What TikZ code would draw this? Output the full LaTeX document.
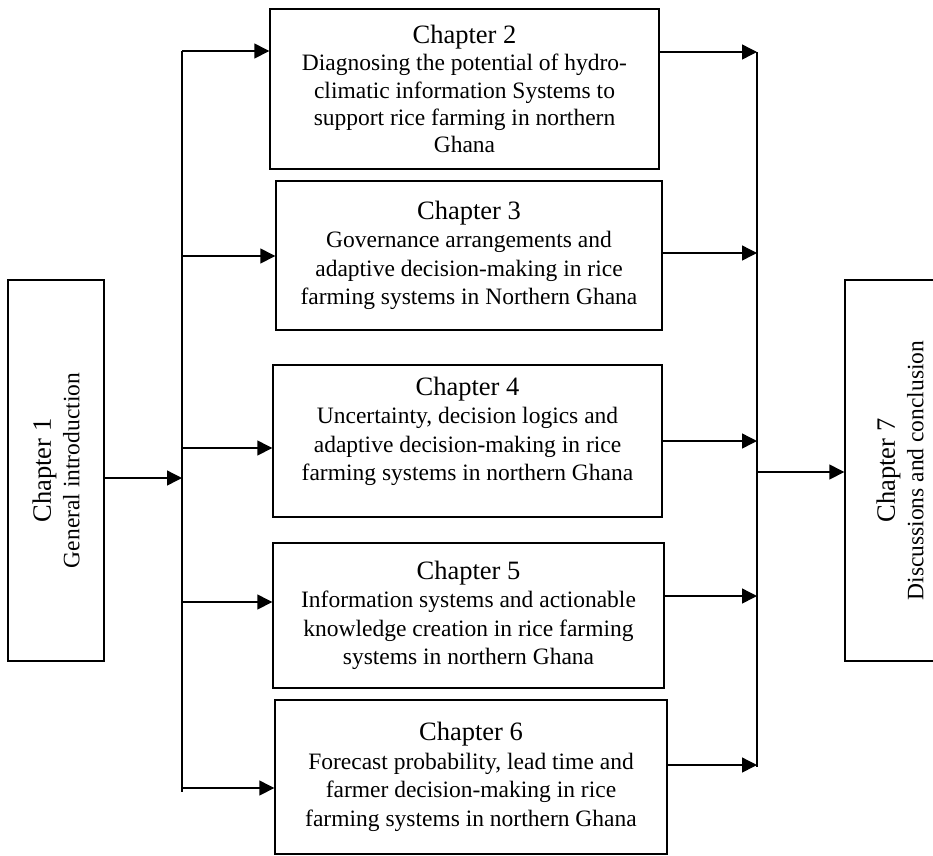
\documentclass[tikz,border=0pt]{standalone}
\usepackage{fontspec}
\setmainfont{Liberation Serif}
\usetikzlibrary{arrows.meta}
\newcommand{\chtitle}[1]{{\fontsize{26.5}{28.5}\selectfont #1}}
\begin{document}
\begin{tikzpicture}[x=1pt,y=-1pt,
  chbox/.style={draw, line width=1.4pt, inner sep=0pt, align=center,
    font=\fontsize{23.5}{28.5}\selectfont, anchor=center},
  bus/.style={line width=1.4pt},
  feed/.style={line width=1.4pt, -{Triangle[length=15pt,width=15pt]}}]
\useasboundingbox (0,0) rectangle (933,855);

% chapter boxes
\node[chbox, rotate=90, minimum width=381pt, minimum height=96pt] (c1) at (56,470.5)
  {\chtitle{Chapter 1}\\General introduction};
\node[chbox, minimum width=389pt, minimum height=160pt, font=\fontsize{23.5}{27.3}\selectfont] (c2) at (464.5,89)
  {\chtitle{Chapter 2}\\Diagnosing the potential of hydro-\\climatic information Systems to\\support rice farming in northern\\Ghana};
\node[chbox, minimum width=386pt, minimum height=149pt] (c3) at (469,255.5)
  {\chtitle{Chapter 3}\\Governance arrangements and\\adaptive decision-making in rice\\farming systems in Northern Ghana};
\node[chbox, minimum width=389pt, minimum height=152pt, text depth=24pt] (c4) at (467.5,441)
  {\chtitle{Chapter 4}\\Uncertainty, decision logics and\\adaptive decision-making in rice\\farming systems in northern Ghana};
\node[chbox, minimum width=391pt, minimum height=145pt] (c5) at (468.5,615.5)
  {\chtitle{Chapter 5}\\Information systems and actionable\\knowledge creation in rice farming\\systems in northern Ghana};
\node[chbox, minimum width=392pt, minimum height=154pt] (c6) at (471,777)
  {\chtitle{Chapter 6}\\Forecast probability, lead time and\\farmer decision-making in rice\\farming systems in northern Ghana};
\begin{scope}
  \clip (0,0) rectangle (933,855);
  \node[chbox, rotate=90, minimum width=381pt, minimum height=110pt] (c7) at (900,470.5)
    {\chtitle{Chapter 7}\\Discussions and conclusion};
\end{scope}

% distribution buses
\coordinate (Ltop) at (182,51);
\coordinate (Lbot) at (182,792);
\coordinate (Rtop) at (757,52);
\coordinate (Rbot) at (757,767);
\draw[bus] (Ltop) -- (Lbot);
\draw[bus] (Rtop) -- (Rbot);

% junction points
\coordinate (J1) at (182,478);
\coordinate (L2) at (182,51);
\coordinate (L3) at (182,256);
\coordinate (L4) at (182,448);
\coordinate (L5) at (182,602);
\coordinate (L6) at (182,788);
\coordinate (R2) at (757,52);
\coordinate (R3) at (757,253);
\coordinate (R4) at (757,441);
\coordinate (R5) at (757,596);
\coordinate (R6) at (757,765);
\coordinate (J7) at (757,472);

% connectors
\draw[feed] (J1 -| c1.south) -- (J1);
\draw[feed] (L2) -- (L2 -| c2.west);
\draw[feed] (L3) -- (L3 -| c3.west);
\draw[feed] (L4) -- (L4 -| c4.west);
\draw[feed] (L5) -- (L5 -| c5.west);
\draw[feed] (L6) -- (L6 -| c6.west);
\draw[feed] (R2 -| c2.east) -- (R2);
\draw[feed] (R3 -| c3.east) -- (R3);
\draw[feed] (R4 -| c4.east) -- (R4);
\draw[feed] (R5 -| c5.east) -- (R5);
\draw[feed] (R6 -| c6.east) -- (R6);
\draw[feed] (J7) -- (J7 -| c7.north);
\end{tikzpicture}
\end{document}
